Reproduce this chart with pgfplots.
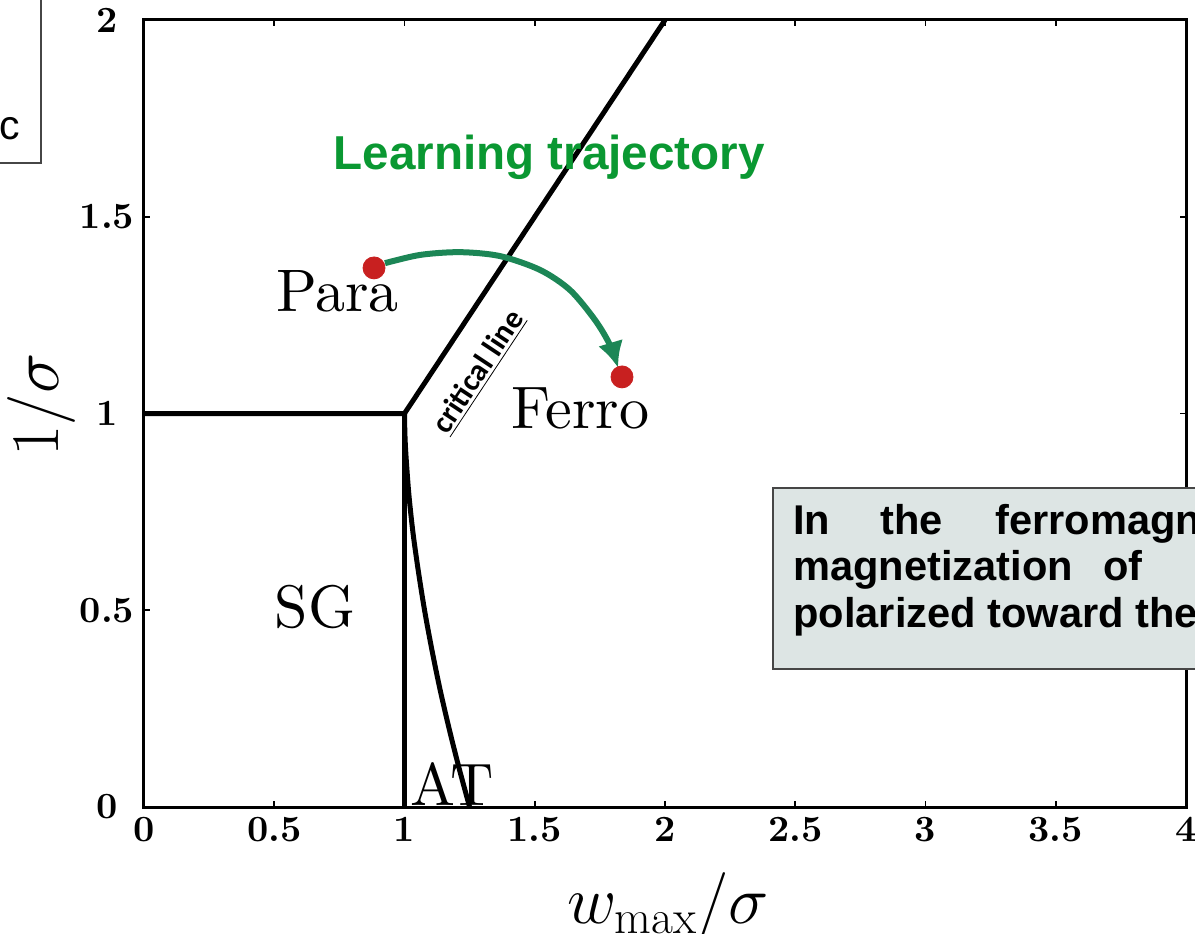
\RequirePackage{fix-cm}
\documentclass[border=0pt]{standalone}
\usepackage{fontspec}
\usepackage{pgfplots}
\pgfplotsset{compat=1.18}
\usetikzlibrary{arrows.meta}
\newfontfamily\arialfont{Liberation Sans}
\newfontfamily\calfont{Carlito}
\newfontfamily\lmten{lmroman10-regular.otf}
\newfontfamily\lmbold{lmroman10-bold.otf}
\definecolor{txtgreen}{RGB}{10,152,50}
\definecolor{arrgreen}{RGB}{28,134,86}
\definecolor{dotred}{RGB}{200,32,32}
\definecolor{boxfill}{RGB}{221,229,228}
\definecolor{boxline}{RGB}{70,70,70}
\begin{document}
\begin{tikzpicture}
\path[use as bounding box, clip] (0,0) rectangle (597.5pt,466.5pt);
\begin{axis}[
  scale only axis,
  width=521pt, height=393.5pt,
  at={(72pt,63pt)}, anchor=south west,
  xmin=0, xmax=4, ymin=0, ymax=2,
  xtick={0,0.5,...,4}, ytick={0,0.5,...,2},
  tick align=inside,
  major tick length=3pt,
  tick style={line width=0.9pt, black},
  axis line style={line width=1.5pt},
  /pgf/number format/assume math mode=true,
  tick label style={font=\lmbold\fontsize{18.5}{22}\selectfont},
  xticklabel style={yshift=-1.5pt},
  yticklabel style={anchor=center, xshift=-18.5pt},
  xlabel={$w_{\mathrm{max}}/\sigma$},
  ylabel={$1/\sigma$},
  label style={font=\fontsize{34}{40}\selectfont},
  xlabel style={at={(axis description cs:0.503,-0.126)}, anchor=center},
  ylabel style={at={(axis description cs:-0.098,0.511)}, anchor=center, rotate=0},
  clip=false,
]
% phase boundaries
\addplot[black, line width=2.5pt] coordinates {(0,1) (1,1) (2,2)};
\addplot[black, line width=2.5pt] coordinates {(1,0) (1,1)};
\addplot[black, line width=2.5pt, smooth] coordinates {
  (1,1) (1.0015,0.95) (1.005,0.9) (1.016,0.8) (1.032,0.7) (1.053,0.6)
  (1.077,0.5) (1.105,0.4) (1.136,0.3) (1.171,0.2) (1.209,0.1) (1.25,0)};
% learning trajectory arrow
\addplot[arrgreen, line width=3pt, smooth, -{Latex[length=13pt,width=13pt]}] coordinates {
  (0.925,1.382) (1.060,1.403) (1.213,1.410) (1.367,1.400) (1.520,1.365)
  (1.635,1.314) (1.731,1.238) (1.789,1.174) (1.820,1.116)};
% dots
\addplot[only marks, mark=*, mark size=5.5pt, dotred, mark options={draw=dotred, fill=dotred}] coordinates {(0.883,1.370) (1.835,1.093)};
% labels
\node[anchor=base, font=\lmten\fontsize{30}{36}\selectfont, inner sep=0] at (axis cs:0.743,1.258) {Para};
\node[anchor=base, font=\lmten\fontsize{30}{36}\selectfont, inner sep=0] at (axis cs:1.674,0.961) {Ferro};
\node[anchor=base, font=\lmten\fontsize{30}{36}\selectfont, inner sep=0] at (axis cs:0.656,0.457) {SG};
\node[anchor=base, font=\lmten\fontsize{30}{36}\selectfont, inner sep=0] at (axis cs:1.184,0.005) {AT};
\node[anchor=base, font=\arialfont\bfseries\fontsize{23.8}{28}\selectfont, text=txtgreen, inner sep=0] at (axis cs:1.555,1.619) {Learning trajectory};
\node[rotate=56.5, font=\calfont\bfseries\fontsize{15.5}{18}\selectfont, inner sep=0] at (axis cs:1.285,1.105) {\underline{critical line}};
\end{axis}
% left box
\draw[boxline, line width=0.7pt] (-5pt,385pt) rectangle (20.5pt,480pt);
\node[anchor=base west, inner sep=0, font=\arialfont\fontsize{20.5}{24}\selectfont] at (-0.5pt,396.5pt) {c};
% right text box
\draw[boxline, line width=0.7pt, fill=boxfill] (386.5pt,132pt) rectangle (620pt,222.5pt);
\begin{scope}[every node/.style={anchor=base west, inner sep=0, font=\arialfont\bfseries\fontsize{20.8}{25}\selectfont}]
\node at (396.5pt,199pt) {In};
\node at (440pt,199pt) {the};
\node at (497.5pt,199pt) {ferromagnetic};
\node at (396.5pt,176pt) {magnetization};
\node at (551.5pt,176pt) {of};
\node at (396.5pt,152.5pt) {polarized toward the};
\end{scope}
\end{tikzpicture}
\end{document}
